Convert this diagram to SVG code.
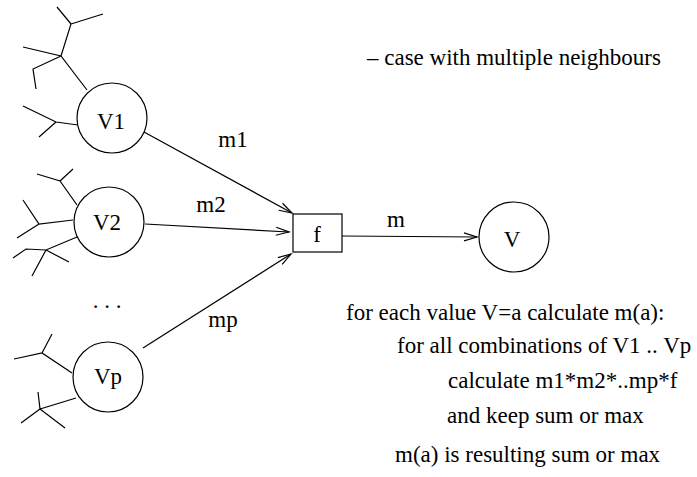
<svg xmlns="http://www.w3.org/2000/svg" width="697" height="477" viewBox="0 0 697 477">
  <style>
    .ln { stroke: #000; stroke-width: 1.2; fill: none; }
    .node { stroke: #000; stroke-width: 1.2; fill: #fff; }
    .t { font-family: 'Liberation Serif', 'Times New Roman', serif; font-size: 23px; fill: #000; }
    .c { text-anchor: middle; }
  </style>
  <defs>
    <marker id="open" markerUnits="userSpaceOnUse" markerWidth="20" markerHeight="12" refX="14" refY="5" orient="auto" viewBox="0 0 20 12">
      <path d="M1,1 L14,5 L1,9" fill="none" stroke="#000" stroke-width="1.2"/>
    </marker>
  </defs>

  <!-- neighbour branches -->
  <g id="branches" class="ln">
    <!-- around V1 -->
    <path d="M87,90 L61,56 L23,47 M61,56 L71,24 L57,7 M71,24 L103,14 M61,56 L33,69 L36,89"/>
    <path d="M78,125 L56,122 L23,106 M56,122 L39,137"/>
    <!-- around V2 -->
    <path d="M77,205 L60,181 L37,174 M60,181 L73,169"/>
    <path d="M73,220 L39,224 L23,200 M39,224 L17,238"/>
    <path d="M77,237 L46,250 L26,249 L13,258 M46,250 L69,262 M46,250 L32,276"/>
    <!-- around Vp -->
    <path d="M72,373 L42,353 L14,359 M42,353 L52,334"/>
    <path d="M76,398 L40,409 L38,392 M40,409 L21,423 M40,409 L65,428"/>
  </g>

  <!-- connectors -->
  <g id="connectors" class="ln">
    <line x1="144" y1="132" x2="292" y2="213" marker-end="url(#open)"/>
    <line x1="145" y1="224" x2="289" y2="232" marker-end="url(#open)"/>
    <line x1="143" y1="348" x2="291" y2="254" marker-end="url(#open)"/>
    <line x1="342" y1="236" x2="477" y2="237" marker-end="url(#open)"/>
  </g>

  <!-- edge labels -->
  <g id="edge-labels" class="t">
    <text class="c" x="233" y="147">m1</text>
    <text class="c" x="211" y="212">m2</text>
    <text class="c" x="223" y="327">mp</text>
    <text class="c" x="396" y="227">m</text>
  </g>

  <g id="node-V1">
    <circle class="node" cx="112" cy="118" r="35"/>
    <text class="t c" x="111" y="129">V1</text>
  </g>
  <g id="node-V2">
    <circle class="node" cx="109" cy="222" r="35"/>
    <text class="t c" x="107" y="230">V2</text>
  </g>
  <g id="node-Vp">
    <circle class="node" cx="108" cy="377" r="35"/>
    <text class="t c" x="108" y="384">Vp</text>
  </g>
  <g id="node-f">
    <rect class="node" x="293" y="214" width="49" height="38"/>
    <text class="t c" x="317" y="242">f</text>
  </g>
  <g id="node-V">
    <circle class="node" cx="514" cy="237" r="35"/>
    <text class="t c" x="512" y="247">V</text>
  </g>

  <text class="t c" x="107" y="308">. . .</text>

  <!-- notes -->
  <g id="notes" class="t">
    <text x="367" y="65">– case with multiple neighbours</text>
    <text x="346" y="320">for each value V=a calculate m(a):</text>
    <text x="397" y="353">for all combinations of V1 .. Vp</text>
    <text x="448" y="388">calculate m1*m2*..mp*f</text>
    <text x="447" y="423">and keep sum or max</text>
    <text x="395" y="462">m(a) is resulting sum or max</text>
  </g>
</svg>
